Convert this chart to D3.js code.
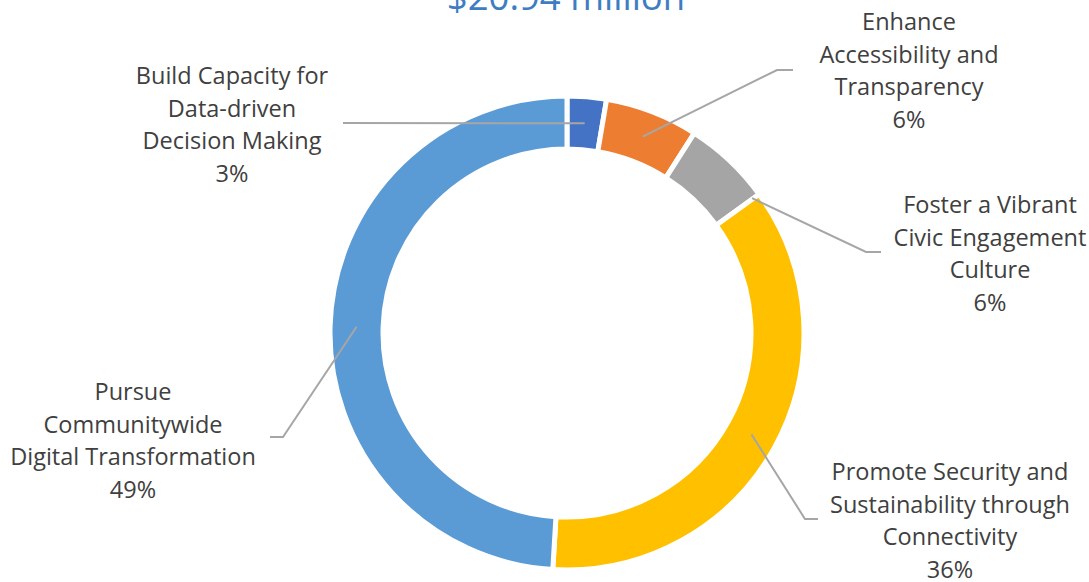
<!DOCTYPE html>
<html>
<head>
<meta charset="utf-8">
<script src="https://cdn.jsdelivr.net/npm/d3@7"></script>
<style>
  html, body { margin: 0; padding: 0; background: #fff; }
  svg { display: block; }
</style>
</head>
<body>
<svg id="chart" width="1089" height="582"></svg>
<script>
// Budget allocation by strategic goal ($ millions)
const categories = [
  "Build Capacity for Data-driven Decision Making",
  "Enhance Accessibility and Transparency",
  "Foster a Vibrant Civic Engagement Culture",
  "Promote Security and Sustainability through Connectivity",
  "Pursue Communitywide Digital Transformation"
];
const amounts = [0.56, 1.33, 1.26, 7.52, 10.27];
const sliceColors = ["#4472C4", "#ED7D31", "#A5A5A5", "#FFC000", "#5B9BD5"];
const titleText = "$20.94 million";

// Label text broken into display lines (percentage appended at draw time)
const labelLines = [
  ["Build Capacity for", "Data-driven", "Decision Making"],
  ["Enhance", "Accessibility and", "Transparency"],
  ["Foster a Vibrant", "Civic Engagement", "Culture"],
  ["Promote Security and", "Sustainability through", "Connectivity"],
  ["Pursue", "Communitywide", "Digital Transformation"]
];

// Label layout: text centre x, first baseline y, leader elbow, leader end,
// and the angle (fraction of the slice span) where the leader touches the ring
const labelLayout = [
  { x: 232, y: 84,  elbow: [343, 123], end: [343, 123], at: 0.5 },
  { x: 909, y: 30,  elbow: [777, 70],  end: [793, 70],  at: 0.5 },
  { x: 990, y: 213, elbow: [866, 252], end: [881, 252], at: 0.99 },
  { x: 950, y: 480, elbow: [805, 519], end: [818, 519], at: 0.5 },
  { x: 133, y: 400, elbow: [283, 437], end: [270, 437], at: 0.5 }
];

const svg = d3.select("#chart");
const cx = 567, cy = 333;
const outerR = 237, innerR = 184;
const FONT = "'Open Sans', Lato, sans-serif";

const total = d3.sum(amounts);
const pct = d3.format(".0%");

const pie = d3.pie().sort(null).value(d => d)(amounts);
const arc = d3.arc().innerRadius(innerR).outerRadius(outerR);

const g = svg.append("g").attr("transform", `translate(${cx},${cy})`);

g.selectAll("path.slice")
  .data(pie)
  .join("path")
  .attr("class", "slice")
  .attr("d", arc)
  .attr("fill", (d, i) => sliceColors[i])
  .attr("stroke", "#fff")
  .attr("stroke-width", 5)
  .attr("stroke-linejoin", "miter");

// Leader lines from ring to labels
const midR = (innerR + outerR) / 2;
pie.forEach((d, i) => {
  const L = labelLayout[i];
  const a = d.startAngle + (d.endAngle - d.startAngle) * L.at;
  const r = i === 2 ? outerR - 8 : midR;
  const sx = cx + r * Math.sin(a);
  const sy = cy - r * Math.cos(a);
  svg.append("polyline")
    .attr("points", [[sx, sy], L.elbow, L.end].map(p => p.join(",")).join(" "))
    .attr("fill", "none")
    .attr("stroke", "#A6A6A6")
    .attr("stroke-width", 2);
});

// Category labels with percentage
pie.forEach((d, i) => {
  const L = labelLayout[i];
  const lines = labelLines[i].concat([pct(amounts[i] / total)]);
  const t = svg.append("text")
    .attr("x", L.x)
    .attr("y", L.y)
    .attr("text-anchor", "middle")
    .attr("font-family", FONT)
    .attr("font-size", 23.5)
    .attr("fill", "#404040");
  lines.forEach((ln, k) => {
    t.append("tspan").attr("x", L.x).attr("dy", k === 0 ? 0 : 32.7).text(ln);
  });
});

// Title (sits partly above the visible area)
svg.append("text")
  .attr("x", 566)
  .attr("y", 10)
  .attr("text-anchor", "middle")
  .attr("font-family", FONT)
  .attr("font-size", 36.5)
  .attr("fill", "#3E7DC2")
  .text(titleText);
</script>
</body>
</html>
